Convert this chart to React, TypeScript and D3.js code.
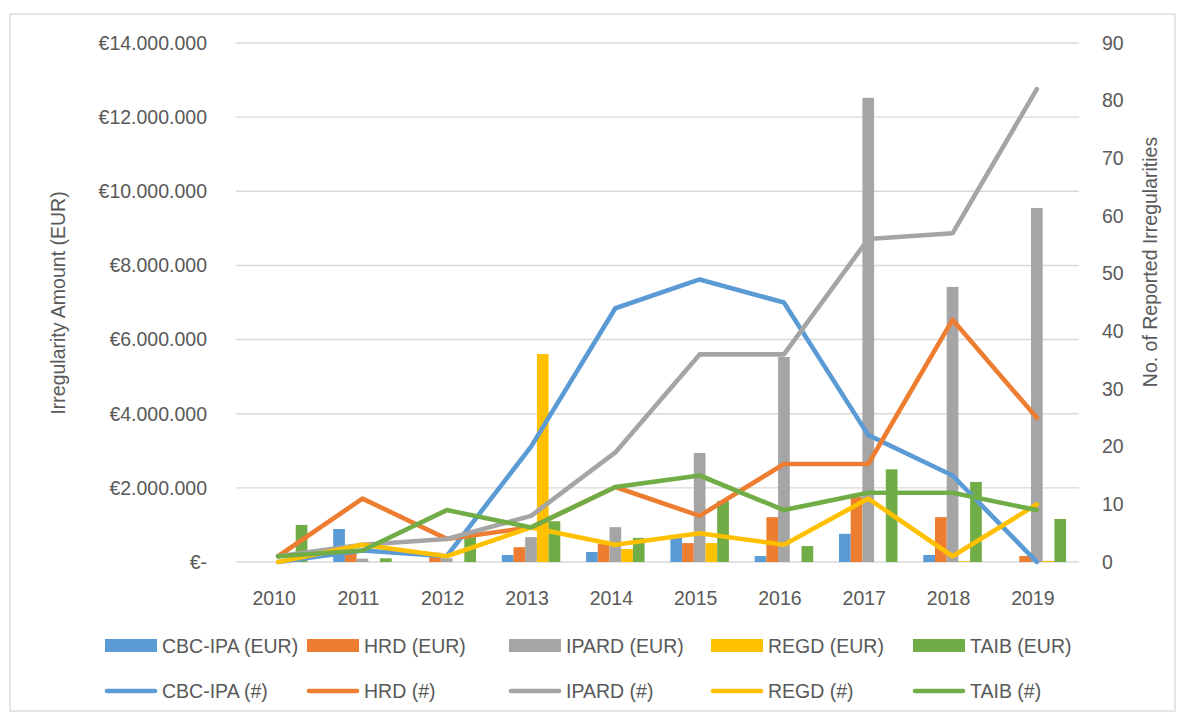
import React from 'react'
import * as d3 from 'd3'

const years = ['2010', '2011', '2012', '2013', '2014', '2015', '2016', '2017', '2018', '2019']
const programmes = ['CBC-IPA', 'HRD', 'IPARD', 'REGD', 'TAIB']
const colors = ['#5B9BD5', '#ED7D31', '#A5A5A5', '#FFC000', '#70AD47']

// amounts in EUR (bars, left axis)
const cbcEur = [0, 890000, 0, 190000, 270000, 650000, 160000, 760000, 190000, 0]
const hrdEur = [0, 300000, 250000, 400000, 490000, 510000, 1210000, 1750000, 1210000, 160000]
const ipardEur = [0, 90000, 100000, 670000, 940000, 2940000, 5530000, 12520000, 7420000, 9550000]
const regdEur = [0, 0, 0, 5610000, 350000, 510000, 0, 0, 20000, 30000]
const taibEur = [1000000, 100000, 800000, 1100000, 650000, 1650000, 430000, 2500000, 2160000, 1160000]

// number of reported irregularities (lines, right axis)
const cbcCount = [0, 2, 1, 20, 44, 49, 45, 22, 15, 0]
const hrdCount = [1, 11, 4, 6, 13, 8, 17, 17, 42, 25]
const ipardCount = [1, 3, 4, 8, 19, 36, 36, 56, 57, 82]
const regdCount = [0, 3, 1, 6, 3, 5, 3, 11, 1, 10]
const taibCount = [1, 2, 9, 6, 13, 15, 9, 12, 12, 9]

const leftTicks = [0, 2000000, 4000000, 6000000, 8000000, 10000000, 12000000, 14000000]
const rightTicks = [0, 10, 20, 30, 40, 50, 60, 70, 80, 90]

const eurSeries = [cbcEur, hrdEur, ipardEur, regdEur, taibEur]
const countSeries = [cbcCount, hrdCount, ipardCount, regdCount, taibCount]

const W = 1182
const H = 716
const plot = { left: 236, right: 1079, top: 43, bottom: 562 }
const font = '"Liberation Sans", Arial, sans-serif'
const textColor = '#595959'
const fs = 19.5

const fmtEur = (v: number) => (v === 0 ? '€-' : '€' + d3.format(',')(v).replace(/,/g, '.'))

export default function App() {
  const x = d3.scaleBand().domain(years).range([plot.left, plot.right]).padding(0)
  const groupW = x.bandwidth() * 0.694
  const xInner = d3.scaleBand().domain(programmes).range([-groupW / 2, groupW / 2]).padding(0)
  const yLeft = d3.scaleLinear().domain([0, 14000000]).range([plot.bottom, plot.top])
  const yRight = d3.scaleLinear().domain([0, 90]).range([plot.bottom, plot.top])

  const line = d3
    .line<number>()
    .x((d, i) => (x(years[i]) as number) + x.bandwidth() / 2)
    .y(d => yRight(d))

  const legendX = (i: number) => 105 + i * 202

  return (
    <svg
      width={W}
      height={H}
      style={{ position: 'absolute', left: 0, top: 0, background: '#fff' }}
      fontFamily={font}
    >
      <rect x={10} y={14} width={1165} height={697} fill="#fff" stroke="#d9d9d9" strokeWidth={1.3} />

      {/* gridlines */}
      <g>
        {leftTicks.map(t => (
          <line
            key={t}
            x1={plot.left}
            x2={plot.right}
            y1={yLeft(t)}
            y2={yLeft(t)}
            stroke="#d9d9d9"
            strokeWidth={1.4}
          />
        ))}
      </g>

      {/* left axis labels */}
      <g fontSize={fs} fill={textColor} textAnchor="end">
        {leftTicks.map(t => (
          <text key={t} x={207} y={yLeft(t)} dy="0.35em">
            {fmtEur(t)}
          </text>
        ))}
      </g>

      {/* right axis labels */}
      <g fontSize={fs} fill={textColor} textAnchor="start">
        {rightTicks.map(t => (
          <text key={t} x={1102} y={yRight(t)} dy="0.35em">
            {t}
          </text>
        ))}
      </g>

      {/* category labels */}
      <g fontSize={fs} fill={textColor} textAnchor="middle">
        {years.map(y => (
          <text key={y} x={(x(y) as number) + x.bandwidth() / 2 - 4} y={598} dy="0.35em">
            {y}
          </text>
        ))}
      </g>

      {/* axis titles */}
      <text
        transform="translate(58,303) rotate(-90)"
        textAnchor="middle"
        dy="0.35em"
        fontSize={fs}
        fill={textColor}
      >
        Irregularity Amount (EUR)
      </text>
      <text
        transform="translate(1150,262) rotate(-90)"
        textAnchor="middle"
        dy="0.35em"
        fontSize={fs}
        fill={textColor}
      >
        No. of Reported Irregularities
      </text>

      {/* bars */}
      <g>
        {eurSeries.map((series, s) =>
          series.map((v, i) => {
            const cx = (x(years[i]) as number) + x.bandwidth() / 2
            const bx = cx + (xInner(programmes[s]) as number)
            return (
              <rect
                key={`${s}-${i}`}
                x={bx}
                y={yLeft(v)}
                width={xInner.bandwidth()}
                height={plot.bottom - yLeft(v)}
                fill={colors[s]}
              />
            )
          })
        )}
      </g>

      {/* lines */}
      <g>
        {countSeries.map((series, s) => (
          <path
            key={s}
            d={line(series) as string}
            fill="none"
            stroke={colors[s]}
            strokeWidth={4.6}
            strokeLinejoin="round"
            strokeLinecap="round"
          />
        ))}
      </g>

      {/* legend */}
      <g fontSize={fs} fill={textColor}>
        {programmes.map((p, i) => (
          <g key={'b' + p}>
            <rect x={legendX(i)} y={639} width={52} height={13} fill={colors[i]} />
            <text x={legendX(i) + 57} y={646} dy="0.35em">
              {p} (EUR)
            </text>
          </g>
        ))}
        {programmes.map((p, i) => (
          <g key={'l' + p}>
            <line
              x1={legendX(i) + 2}
              x2={legendX(i) + 50}
              y1={691}
              y2={691}
              stroke={colors[i]}
              strokeWidth={4.6}
              strokeLinecap="round"
            />
            <text x={legendX(i) + 57} y={691} dy="0.35em">
              {p} (#)
            </text>
          </g>
        ))}
      </g>
    </svg>
  )
}
